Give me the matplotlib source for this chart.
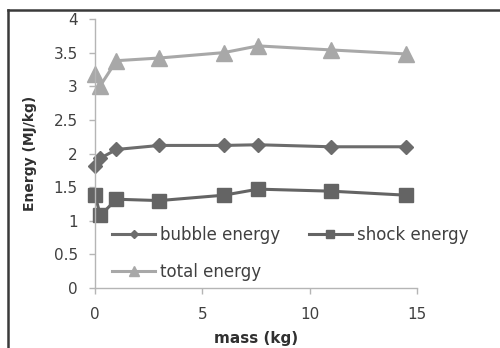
import matplotlib.pyplot as plt
from matplotlib.lines import Line2D

# data
mass = [0, 0.25, 1, 3, 6, 7.6, 11, 14.5]
bubble_energy = [1.82, 1.93, 2.06, 2.12, 2.12, 2.13, 2.10, 2.10]
shock_energy = [1.38, 1.08, 1.32, 1.30, 1.38, 1.47, 1.44, 1.38]
total_energy = [3.18, 3.01, 3.38, 3.42, 3.50, 3.60, 3.54, 3.48]

x_ticks = [0, 5, 10, 15]
y_ticks = [0, 0.5, 1, 1.5, 2, 2.5, 3, 3.5, 4]
y_ticklabels = ["0", "0.5", "1", "1.5", "2", "2.5", "3", "3.5", "4"]

plt.rcParams['font.family'] = ['DejaVu Sans']

fig = plt.figure(figsize=(5.0, 3.48), dpi=100)
fig.patch.set_facecolor("white")
ax = fig.add_axes([0.19, 0.1724, 0.644, 0.773])

c_bubble = "#6c6c6c"
c_shock = "#646464"
c_total = "#a8a8a8"

l1, = ax.plot(mass, bubble_energy, color=c_bubble, lw=2.2, marker="D",
              markersize=7.5, label="bubble energy", clip_on=False)
l2, = ax.plot(mass, shock_energy, color=c_shock, lw=2.2, marker="s",
              markersize=10.5, label="shock energy", clip_on=False)
l3, = ax.plot(mass, total_energy, color=c_total, lw=2.2, marker="^",
              markersize=12, label="total energy", clip_on=False)

ax.set_xlim(0, 15)
ax.set_ylim(0, 4)
ax.set_xticks(x_ticks)
ax.set_yticks(y_ticks)
ax.set_yticklabels(y_ticklabels)

for s in ["top", "right"]:
    ax.spines[s].set_visible(False)
for s in ["left", "bottom"]:
    ax.spines[s].set_color("#b5b5b5")
    ax.spines[s].set_linewidth(1.0)
ax.tick_params(axis="both", colors="#b5b5b5", labelcolor="#404040",
               labelsize=11, length=4.5, width=1.0)
ax.tick_params(axis="y", pad=8)
ax.tick_params(axis="x", pad=9)

ax.set_xlabel("mass (kg)", fontsize=11, fontweight="bold", color="#303030",
              labelpad=7)
ax.set_ylabel("Energy (MJ/kg)", fontsize=10, fontweight="bold", color="#303030",
              labelpad=12)

# row-major legend: bubble, shock / total
handles = [l1, l3, l2]
leg = ax.legend(handles=handles, labels=[h.get_label() for h in handles],
                ncol=2, frameon=False, loc="upper left",
                bbox_to_anchor=(0.224, 0.35), bbox_transform=fig.transFigure,
                fontsize=12, handlelength=2.6, handletextpad=0.3,
                columnspacing=1.7, labelspacing=1.1, borderpad=0,
                borderaxespad=0, markerscale=0.6)
for t in leg.get_texts():
    t.set_color("#404040")

# border around the picture (left and top edges only)
fig.add_artist(Line2D([0.015, 0.015], [0.0, 0.972], transform=fig.transFigure,
                      color="#3a3a3a", lw=1.8))
fig.add_artist(Line2D([0.015, 1.0], [0.972, 0.972], transform=fig.transFigure,
                      color="#3a3a3a", lw=1.8))

fig.savefig("out.png", dpi=100)
